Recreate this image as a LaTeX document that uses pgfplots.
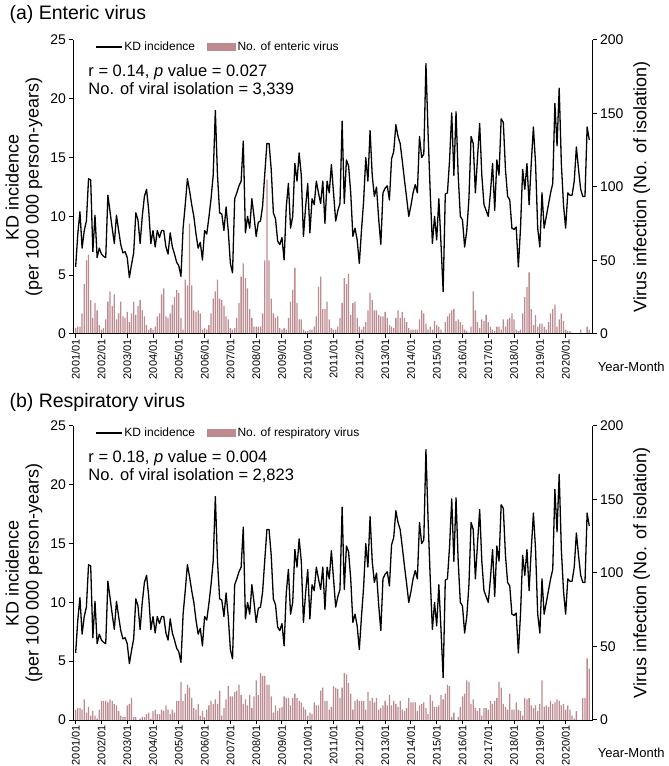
\documentclass[border=0pt]{standalone}
\usepackage{fontspec}
\setmainfont{Liberation Sans}
\usepackage{pgfplots}
\usepackage{pgfplotstable}
\pgfplotsset{compat=1.18}
\definecolor{barcol}{RGB}{188,138,143}

\pgfplotstableread{
m kd ent resp
0 5.7 4 7
1 8.5 5 8
2 10.4 5 8
3 7.3 14 7
4 8.8 34 14
5 9.6 50 5
6 13.2 54 9
7 13.1 23 3
8 7.0 11 6
9 10.1 21 3
10 6.5 16 1
11 7.3 6 7
12 6.8 3 13
13 6.6 4 13
14 6.5 10 13
15 11.8 22 12
16 10.4 29 14
17 9.0 19 13
18 7.7 27 11
19 10.1 10 10
20 8.8 14 6
21 7.6 22 3
22 6.9 12 2
23 7.0 11 2
24 6.5 15 10
25 4.8 8 11
26 5.9 14 15
27 6.9 22 2
28 10.3 13 2
29 9.7 19 0
30 7.7 23 1
31 10.0 16 2
32 11.7 12 2
33 12.3 6 4
34 10.5 3 5
35 7.7 4 1
36 8.8 3 6
37 7.4 5 7
38 8.8 12 4
39 8.2 14 4
40 8.8 27 7
41 8.8 31 6
42 7.4 12 10
43 6.8 11 7
44 8.6 14 4
45 7.4 20 7
46 6.8 25 5
47 6.1 30 13
48 5.8 28 13
49 4.9 11 26
50 9.0 3 13
51 11.0 37 18
52 13.2 33 24
53 12.2 75 22
54 11.0 33 15
55 10.0 16 8
56 8.5 15 7
57 7.3 16 11
58 7.8 14 3
59 6.3 3 6
60 8.8 4 2
61 8.5 3 7
62 9.9 6 10
63 11.5 14 13
64 13.5 24 11
65 19.0 29 14
66 13.5 37 11
67 10.3 24 20
68 10.2 23 3
69 8.8 19 8
70 10.8 12 14
71 8.8 10 23
72 6.0 4 16
73 5.2 3 16
74 11.5 4 19
75 12.0 11 20
76 12.6 21 24
77 13.0 39 17
78 16.4 48 11
79 8.6 38 14
80 10.0 31 10
81 9.0 17 17
82 11.5 11 8
83 10.0 5 16
84 8.3 5 27
85 9.5 5 17
86 9.6 5 32
87 10.9 14 30
88 13.6 50 30
89 16.2 105 24
90 16.2 50 24
91 14.0 24 16
92 10.3 14 5
93 9.8 11 10
94 7.9 12 6
95 7.6 4 8
96 8.2 3 9
97 6.3 4 16
98 10.8 3 15
99 12.8 11 15
100 9.0 22 10
101 10.0 30 15
102 14.5 45 18
103 13.0 21 15
104 15.4 10 13
105 13.5 10 12
106 8.3 3 9
107 10.8 2 7
108 12.8 2 3
109 8.6 3 5
110 11.5 3 4
111 11.0 5 12
112 13.0 12 10
113 12.0 32 10
114 11.1 39 20
115 13.0 17 22
116 9.4 17 13
117 13.0 22 13
118 12.0 10 7
119 14.4 4 9
120 12.0 3 23
121 9.6 3 22
122 10.5 5 21
123 11.1 11 15
124 18.1 21 22
125 11.1 38 32
126 14.8 34 31
127 14.3 41 25
128 12.0 13 18
129 8.3 21 7
130 9.0 22 13
131 8.0 11 14
132 6.0 5 13
133 8.8 3 13
134 11.3 5 13
135 15.0 8 7
136 13.0 16 19
137 17.3 28 13
138 13.5 23 15
139 11.7 16 12
140 12.5 16 15
141 9.8 13 7
142 7.6 12 8
143 12.0 12 10
144 12.4 15 13
145 12.6 11 10
146 11.4 6 17
147 14.9 5 10
148 15.5 4 13
149 17.8 11 11
150 16.8 16 9
151 16.2 11 13
152 14.7 15 7
153 13.1 11 6
154 11.6 8 8
155 10.0 4 15
156 10.9 3 12
157 12.0 3 12
158 12.7 3 12
159 12.0 3 6
160 16.8 10 10
161 15.0 16 11
162 15.3 14 12
163 23.0 7 8
164 17.0 3 4
165 12.0 5 17
166 7.7 3 13
167 10.0 9 9
168 8.0 6 9
169 11.5 5 10
170 7.7 3 17
171 3.6 1 14
172 11.9 8 18
173 12.0 12 24
174 14.8 14 23
175 18.8 16 2
176 13.5 17 5
177 18.9 9 0
178 13.5 10 2
179 10.0 8 9
180 9.7 6 16
181 7.4 3 18
182 8.8 2 27
183 11.5 1 26
184 16.8 5 11
185 16.2 29 14
186 12.0 16 8
187 15.0 8 6
188 17.9 4 8
189 13.5 10 3
190 11.0 9 8
191 10.5 13 8
192 10.0 8 7
193 12.0 5 13
194 14.5 3 11
195 10.5 2 13
196 14.8 5 15
197 13.5 5 26
198 18.3 3 22
199 18.0 10 11
200 14.0 5 9
201 11.7 10 7
202 11.4 11 18
203 9.0 14 7
204 8.9 10 7
205 9.1 3 12
206 5.7 2 7
207 9.0 3 6
208 14.0 14 3
209 12.3 25 15
210 14.5 32 14
211 11.0 42 15
212 14.5 17 10
213 17.6 6 8
214 14.5 13 10
215 9.0 5 6
216 7.4 7 11
217 12.0 7 27
218 9.0 5 9
219 10.0 3 10
220 11.0 8 9
221 12.0 14 13
222 12.8 17 11
223 19.6 20 12
224 16.0 5 14
225 20.9 10 13
226 14.5 14 10
227 11.0 9 11
228 9.0 3 7
229 12.0 2 10
230 11.8 2 7
231 11.8 1 3
232 13.0 0 1
233 15.9 0 6
234 14.0 0 0
235 12.3 3 0
236 11.7 0 15
237 11.7 0 15
238 17.6 5 42
239 16.5 3 35
}\data

\pgfplotsset{
  base/.style={
    scale only axis, width=519pt, height=294pt,
    xmin=-1, xmax=240.5,
    tick align=outside, major tick length=4pt,
    axis line style={line width=1pt, black},
    every tick/.style={black, line width=1pt},
    tick label style={font=\fontsize{14}{14}\selectfont},
    /pgf/number format/assume math mode=true,
    clip=false,
  },
  barax/.style={base, ymin=0, ymax=200, axis y line*=right, hide x axis,
    ytick={0,50,...,200},
    ylabel={Virus infection (No. of isolation)},
    ylabel style={font=\fontsize{18}{20}\selectfont, at={(axis description cs:1.072,0.5)}, anchor=north},
  },
  lineax/.style={base, ymin=0, ymax=25, axis y line*=left, axis x line*=bottom,
    ytick={0,5,...,25},
    xtick={0,12,...,228},
    xticklabels={2001/01,2002/01,2003/01,2004/01,2005/01,2006/01,2007/01,2008/01,2009/01,2010/01,2011/01,2012/01,2013/01,2014/01,2015/01,2016/01,2017/01,2018/01,2019/01,2020/01},
    xticklabel style={rotate=90, anchor=east, inner sep=1.2pt, font=\fontsize{11}{11}\selectfont},
    ylabel={KD incidence\\(per 100 000 person-years)},
    ylabel style={align=center, font=\fontsize{18}{20}\selectfont, at={(axis description cs:-0.053,0.5)}, anchor=south},
    legend style={at={(axis description cs:0.041,0.976)}, anchor=west, draw=none, fill=none,
      font=\fontsize{12}{12}\selectfont, inner sep=0pt},
    legend columns=2,
    legend cell align=left,
    /tikz/every even column/.append style={column sep=10pt},
  },
}

\begin{document}
\begin{tikzpicture}
\useasboundingbox (0pt,0pt) rectangle (669pt,766pt);

% ---------- panel (a) ----------
\node[anchor=west, font=\fontsize{19.5}{19.5}\selectfont] at (6pt,752pt) {(a) Enteric virus};
\begin{axis}[barax, at={(73.5pt,432pt)}, anchor=south west]
\addplot[ybar, bar width=0.6, fill=barcol, draw=none] table[x=m,y=ent]{\data};
\end{axis}
\begin{axis}[lineax, at={(73.5pt,432pt)}, anchor=south west]
\addplot[black, line width=1.3pt, line join=round,
  legend image code/.code={\draw[black, line width=1.5pt] (0pt,0pt) -- (26pt,0pt);}]
  table[x=m,y=kd]{\data};
\addlegendentry{KD incidence}
\addlegendimage{legend image code/.code={\fill[barcol] (0pt,-3.5pt) rectangle (28pt,4pt);}}
\addlegendentry{No. of enteric virus}
\node[anchor=west, font=\fontsize{16.5}{16.5}\selectfont] at (axis description cs:0.022,0.891) {r = 0.14, \textit{p} value = 0.027};
\node[anchor=west, font=\fontsize{16.5}{16.5}\selectfont] at (axis description cs:0.022,0.830) {No. of viral isolation = 3,339};
\node[anchor=west, inner sep=0pt, font=\fontsize{13}{13}\selectfont] at (axis description cs:1.010,-0.112) {Year-Month};
\end{axis}

% ---------- panel (b) ----------
\node[anchor=west, font=\fontsize{19.5}{19.5}\selectfont] at (6pt,364pt) {(b) Respiratory virus};
\begin{axis}[barax, at={(73.5pt,46pt)}, anchor=south west]
\addplot[ybar, bar width=0.6, fill=barcol, draw=none] table[x=m,y=resp]{\data};
\end{axis}
\begin{axis}[lineax, at={(73.5pt,46pt)}, anchor=south west]
\addplot[black, line width=1.3pt, line join=round,
  legend image code/.code={\draw[black, line width=1.5pt] (0pt,0pt) -- (26pt,0pt);}]
  table[x=m,y=kd]{\data};
\addlegendentry{KD incidence}
\addlegendimage{legend image code/.code={\fill[barcol] (0pt,-3.5pt) rectangle (28pt,4pt);}}
\addlegendentry{No. of respiratory virus}
\node[anchor=west, font=\fontsize{16.5}{16.5}\selectfont] at (axis description cs:0.022,0.891) {r = 0.18, \textit{p} value = 0.004};
\node[anchor=west, font=\fontsize{16.5}{16.5}\selectfont] at (axis description cs:0.022,0.830) {No. of viral isolation = 2,823};
\node[anchor=west, inner sep=0pt, font=\fontsize{13}{13}\selectfont] at (axis description cs:1.010,-0.112) {Year-Month};
\end{axis}
\end{tikzpicture}
\end{document}
